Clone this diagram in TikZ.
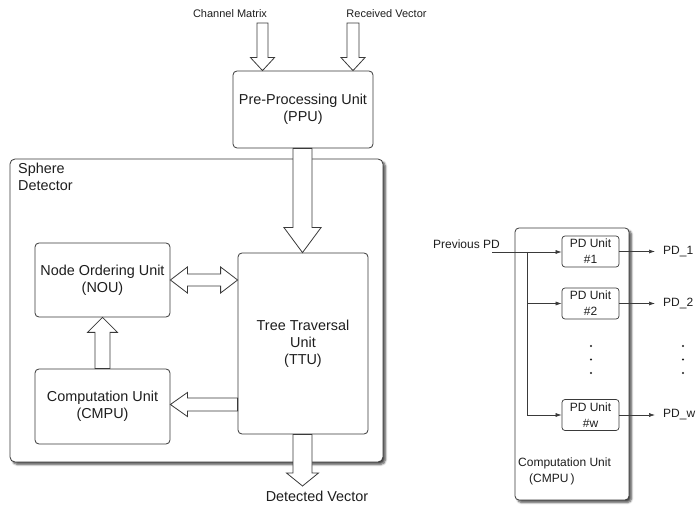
\documentclass[tikz,border=0pt]{standalone}
\usepackage{fontspec}
\setmainfont{Liberation Sans}
\usetikzlibrary{calc,arrows.meta,shadows.blur}

\definecolor{linec}{HTML}{3A3A3A}
\definecolor{textc}{HTML}{1E1E1E}

\tikzset{
  unit/.style={draw=linec, line width=0.8pt, rounded corners=4pt, fill=white,
    align=center, inner sep=0pt, text=textc, font=\fontsize{14.4}{17}\selectfont},
  frame/.style={draw=linec, line width=0.8pt, rounded corners=5pt, fill=white,
    blur shadow={shadow xshift=2.5pt, shadow yshift=-2.5pt, shadow blur steps=6,
      shadow blur extra rounding=2pt, shadow opacity=70}},
  pdunit/.style={draw=linec, line width=0.7pt, rounded corners=3pt, fill=white,
    align=center, inner sep=0pt, text=textc, minimum width=57pt, minimum height=31pt,
    font=\fontsize{12}{16}\selectfont},
  biglabel/.style={text=textc, inner sep=0pt, align=left, font=\fontsize{14.4}{17}\selectfont},
  smalllabel/.style={text=textc, inner sep=0pt, font=\fontsize{11}{13}\selectfont},
  pdlabel/.style={text=textc, inner sep=0pt, align=left, font=\fontsize{12}{16}\selectfont},
  blockarrow/.style={draw=linec, line width=0.8pt, fill=white, line join=miter},
  wire/.style={draw=linec, line width=0.6pt},
  wirearrow/.style={wire, -{Latex[length=6pt, width=4pt]}},
}

% hollow block arrow from #1 to the tip #2:
% #3 half body width, #4 half head width, #5 head length
\newcommand\blockarrowto[5]{%
  \coordinate (hbase) at ($(#2)!#5!(#1)$);
  \draw[blockarrow]
    ($(#1)!#3!90:(#2)$) -- ($(hbase)!#3!90:(#2)$) -- ($(hbase)!#4!90:(#2)$)
    -- (#2)
    -- ($(hbase)!#4!-90:(#2)$) -- ($(hbase)!#3!-90:(#2)$) -- ($(#1)!#3!-90:(#2)$)
    -- cycle;}

% hollow block arrow with a head at both ends
\newcommand\blockarrowboth[5]{%
  \coordinate (hfirst) at ($(#1)!#5!(#2)$);
  \coordinate (hsecond) at ($(#2)!#5!(#1)$);
  \draw[blockarrow]
    (#1) -- ($(hfirst)!#4!90:(#2)$) -- ($(hfirst)!#3!90:(#2)$)
    -- ($(hsecond)!#3!90:(#2)$) -- ($(hsecond)!#4!90:(#2)$)
    -- (#2)
    -- ($(hsecond)!#4!-90:(#2)$) -- ($(hsecond)!#3!-90:(#2)$)
    -- ($(hfirst)!#3!-90:(#2)$) -- ($(hfirst)!#4!-90:(#2)$)
    -- cycle;}

\begin{document}
\begin{tikzpicture}[x=1pt, y=-1pt]
\useasboundingbox (0,0) rectangle (697,505);

% ---------- left part: the sphere detector ----------
\node[frame, minimum width=373pt, minimum height=303pt] (sd) at (196.5,310.5) {};
\node[biglabel, anchor=north west] (sdlabel) at (18,163) {Sphere\\Detector};

\node[unit, minimum width=140pt, minimum height=77pt] (ppu) at (303,109.5)
  {Pre-Processing Unit\\(PPU)};
\node[unit, minimum width=135pt, minimum height=74pt] (nou) at (102.5,280)
  {Node Ordering Unit\\(NOU)};
\node[unit, minimum width=135pt, minimum height=75pt] (cmpu) at (102.5,406.5)
  {Computation Unit\\(CMPU)};
\node[unit, minimum width=130pt, minimum height=181pt] (ttu) at (303,343.5)
  {Tree Traversal\\Unit\\(TTU)};

% inputs
\coordinate (cmin) at (262.5,23);
\coordinate (rvin) at (353,23);
\node[smalllabel] (cmlabel) at (230,14) {Channel Matrix};
\node[smalllabel] (rvlabel) at (386.5,14) {Received Vector};
\blockarrowto{cmin}{cmin |- ppu.north}{5.5pt}{12pt}{13pt}
\blockarrowto{rvin}{rvin |- ppu.north}{6pt}{12pt}{13pt}

% data flow between the units
\coordinate (ppuout) at ($(ppu.south)+(-0.5,0)$);
\blockarrowto{ppuout}{ppuout |- ttu.north}{9.5pt}{18.5pt}{25pt}
\blockarrowboth{nou.east}{nou.east -| ttu.west}{6pt}{13pt}{17pt}
\blockarrowto{cmpu.north}{nou.south}{7.5pt}{15pt}{15pt}
\coordinate (ttuleft) at (ttu.west |- 0,404.5);
\blockarrowto{ttuleft}{ttuleft -| cmpu.east}{6.5pt}{12pt}{17pt}

% output
\coordinate (dv) at (302.5,486);
\blockarrowto{ttu.south -| dv}{dv}{9.5pt}{16pt}{13pt}
\node[biglabel] (dvlabel) at (317,496.5) {Detected Vector};

% ---------- right part: the computation unit ----------
\node[frame, rounded corners=4pt, minimum width=114pt, minimum height=272pt] (cu) at (572,364) {};
\node[pdlabel, anchor=north west] (culabel) at (518,458)
  {Computation Unit\\\hspace*{11pt}(CMPU\,)};

\node[pdunit] (pd1) at (590.5,251.5) {PD Unit\\\#1};
\node[pdunit] (pd2) at (590.5,303.5) {PD Unit\\\#2};
\node[pdunit] (pdw) at (590.5,415) {PD Unit\\\#w};

\coordinate (prev) at (492,252);
\node[pdlabel, anchor=base] (prevlabel) at (466.5,249) {Previous PD};
\coordinate (split) at (527,252);
\draw[wirearrow] (prev) -- (pd1.west |- prev);
\draw[wire] (split) -- (split |- pdw.west);
\draw[wirearrow] (split |- pd2.west) -- (pd2.west);
\draw[wirearrow] (split |- pdw.west) -- (pdw.west);

\coordinate (o1) at (655,0);
\draw[wirearrow] (pd1.east) -- (pd1.east -| o1);
\draw[wirearrow] (pd2.east) -- (pd2.east -| o1);
\draw[wirearrow] (pdw.east) -- (pdw.east -| o1);
\node[pdlabel, anchor=west] (out1) at (663,252) {PD\_1};
\node[pdlabel, anchor=west] (out2) at (663,304) {PD\_2};
\node[pdlabel, anchor=west] (outw) at (663,415) {PD\_w};

% ellipsis dots
\foreach \yy in {346,359.5,373} {
  \fill[textc] (591,\yy) circle (1.1pt);
  \fill[textc] (683,\yy) circle (1.1pt);
}
\end{tikzpicture}
\end{document}
